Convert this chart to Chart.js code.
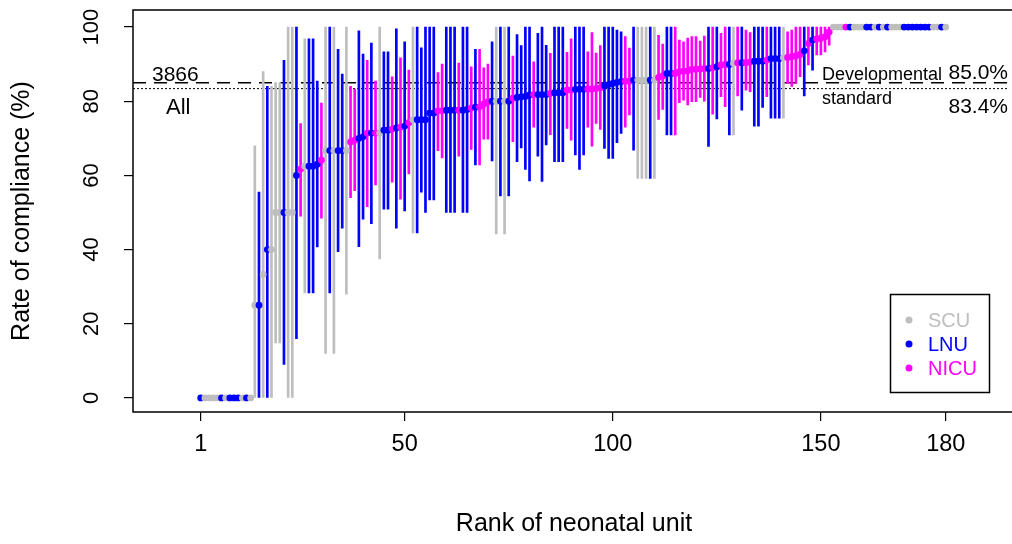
<!DOCTYPE html>
<html>
<head>
<meta charset="utf-8">
<script src="https://cdn.jsdelivr.net/npm/chart.js@4/dist/chart.umd.min.js"></script>
<style>
  html, body { margin: 0; padding: 0; background: #fff; }
  canvas { display: block; }
</style>
</head>
<body>
<canvas id="compliance-chart" width="1012" height="544"></canvas>
<script>
// unit type for each rank (S = SCU, L = LNU, N = NICU)
const unitType = [
  'L','S','S','S','S','L','S','L','L','L',
  'S','L','S','S','L','S','L','S','S','S',
  'L','S','S','L','N','S','L','L','L','N',
  'S','L','S','L','L','S','N','N','L','L',
  'N','L','N','S','L','L','N','L','N','L',
  'N','S','L','L','L','L','L','N','N','L',
  'L','L','N','L','L','N','L','N','N','N',
  'L','S','L','S','L','N','L','L','L','L',
  'N','L','L','L','N','L','L','L','N','N',
  'L','L','L','N','N','N','N','L','L','L',
  'L','L','N','N','L','S','S','S','L','S',
  'N','N','L','L','N','N','N','N','N','N',
  'N','N','L','N','L','N','N','L','S','N',
  'L','N','N','L','L','L','N','L','L','L',
  'S','N','N','N','N','L','N','L','N','N',
  'N','N','S','S','S','N','L','S','S','S',
  'L','L','S','L','S','L','S','S','S','L',
  'L','L','L','L','L','L','S','S','L','S'
];

// rate of compliance (%) by rank
const rate = [
  0, 0, 0, 0, 0, 0, 0, 0, 0, 0,
  0, 0, 0, 25, 25, 33.3, 40, 40, 50, 50,
  50, 50, 50, 60, 61.7, 62.5, 62.5, 62.5, 63, 64.1,
  66.7, 66.7, 66.7, 66.7, 66.7, 66.7, 69, 69.5, 70, 70.4,
  71.4, 71.4, 71.4, 71.4, 72.2, 72.2, 72.5, 72.8, 73, 73.3,
  74.2, 75, 75, 75, 75, 76.8, 76.8, 77.4, 77.4, 77.6,
  77.6, 77.6, 77.6, 77.6, 77.8, 78.2, 78.4, 78.5, 79.2, 79.8,
  80, 80, 80, 80, 80, 80.8, 81, 81.2, 81.3, 81.7,
  81.8, 81.8, 81.8, 81.8, 82.1, 82.3, 82.3, 82.3, 83, 83,
  83.2, 83.2, 83.2, 83.3, 83.3, 83.4, 83.6, 84.2, 84.5, 84.8,
  85.1, 85.3, 85.4, 85.4, 85.7, 85.7, 85.7, 85.7, 85.7, 85.7,
  86.4, 86.8, 87.5, 87.5, 87.5, 88, 88.1, 88.2, 88.6, 88.6,
  88.7, 88.8, 88.8, 89, 89.3, 89.8, 89.9, 89.9, 90.2, 90.4,
  90.4, 90.4, 90.6, 90.8, 90.8, 90.8, 91.1, 91.5, 91.5, 91.5,
  91.7, 91.8, 92, 92.2, 92.6, 93.6, 95.6, 96.5, 96.8, 97,
  97.4, 98.7, 100, 100, 100, 100, 100, 100, 100, 100,
  100, 100, 100, 100, 100, 100, 100, 100, 100, 100,
  100, 100, 100, 100, 100, 100, 100, 100, 100, 100
];

// lower confidence limit
const lower = [
  0, 0, 0, 0, 0, 0, 0, 0, 0, 0,
  0, 0, 0, 0, 0, 0, 0, 0, 14.8, 14.8,
  9, 0, 0, 16, 49, 28.3, 28.3, 28.3, 40.7, 48.5,
  12, 28.3, 12, 39.4, 45.8, 28, 54, 55.9, 40.8, 48.2,
  51.6, 47, 57.4, 37.5, 50.9, 50.9, 58.2, 45.8, 53.6, 50.4,
  60.4, 44.5, 44.5, 55.5, 50, 53.4, 53.4, 66.7, 64.7, 50,
  50, 50, 65.2, 50, 50, 67, 62.8, 62.8, 69.8, 69.8,
  63.9, 44.2, 54.5, 44.2, 54.5, 69.1, 63.7, 67.4, 61.6, 58.5,
  73, 65.2, 58.4, 68.2, 71, 63.7, 63.7, 63.7, 72.7, 69.5,
  65.5, 61.6, 65.5, 73, 67.9, 74, 72.4, 67.3, 64.6, 64.6,
  68.8, 71.3, 73, 76.3, 66.8, 59.2, 59.2, 59.2, 59.2, 59.2,
  75.1, 77.8, 70.9, 70.9, 70.9, 79.6, 80.3, 79, 79.9, 79.9,
  81, 80, 67.8, 76.5, 75.2, 81.2, 78.5, 70.9, 70.9, 81.4,
  77.6, 83, 82.6, 73.3, 73.3, 78.3, 81.2, 75.4, 75.4, 75.4,
  75.4, 84.8, 84, 84.8, 86.6, 81.4, 89.8, 88.4, 92.5, 92.5,
  93.3, 95.1, 100, 100, 100, 100, 100, 100, 100, 100,
  100, 100, 100, 100, 100, 100, 100, 100, 100, 100,
  100, 100, 100, 100, 100, 100, 100, 100, 100, 100
];

// upper confidence limit
const upper = [
  0, 0, 0, 0, 0, 0, 0, 0, 0, 0,
  0, 0, 0, 68, 55.5, 88, 84, 84, 85, 85,
  91, 100, 100, 100, 74, 96.8, 96.8, 96.8, 85.4, 79.5,
  100, 100, 100, 94, 87.3, 100, 84, 83.3, 99, 92.7,
  91, 95.7, 85.4, 100, 93.3, 93.3, 86.6, 99.5, 91.7, 96,
  88.4, 100, 100, 94.4, 100, 100, 100, 87.7, 90, 100,
  100, 100, 90.3, 100, 100, 89.3, 94, 94, 89, 90,
  96, 100, 100, 100, 100, 92.2, 98, 95, 100, 100,
  90.6, 98.3, 100, 95.1, 92.9, 100, 100, 100, 93.2, 96.8,
  100, 100, 100, 93.3, 98.5, 93, 95, 100, 100, 100,
  99.2, 98.7, 97.4, 94.3, 100, 100, 100, 100, 100, 100,
  97.8, 95.4, 100, 100, 100, 96.5, 96, 97, 97.4, 97.4,
  96.2, 97.6, 100, 100, 100, 98.3, 100, 100, 100, 100,
  100, 99.2, 98.5, 100, 100, 100, 100, 100, 100, 100,
  100, 98.7, 99.2, 100, 100, 100, 100, 100, 100, 100,
  100, 100, 100, 100, 100, 100, 100, 100, 100, 100,
  100, 100, 100, 100, 100, 100, 100, 100, 100, 100,
  100, 100, 100, 100, 100, 100, 100, 100, 100, 100
];

const xTicks = [1, 50, 100, 150, 180];
const yTicks = [0, 20, 40, 60, 80, 100];

// reference lines: developmental standard and overall rate
const standardRate = 85.0;
const overallRate = 83.4;
const overallCount = '3866';

const legendNames = ['SCU', 'LNU', 'NICU'];
const legendCodes = ['S', 'L', 'N'];

const typeColors = { S: '#bebebe', L: '#0000ff', N: '#ff00ff' };
const FONT = '"Liberation Sans", Arial, Helvetica, sans-serif';

document.addEventListener('DOMContentLoaded', function() {
  const ctx = document.getElementById('compliance-chart').getContext('2d');

  const points = rate.map((v, i) => ({ x: i + 1, y: v }));
  const intervals = rate.map((v, i) => ({ x: i + 1, y: [lower[i], upper[i]] }));
  const colors = unitType.map(t => typeColors[t]);

  // extra drawing: box, rotated y labels, titles, reference lines, legend
  const decorations = {
    id: 'decorations',
    beforeDatasetsDraw(chart) {
      const c = chart.ctx;
      const area = chart.chartArea;
      const y = chart.scales.y;
      c.save();
      c.strokeStyle = '#000';
      c.lineWidth = 1.5;
      c.setLineDash([13, 8]);
      c.beginPath();
      c.moveTo(area.left, y.getPixelForValue(standardRate));
      c.lineTo(area.right, y.getPixelForValue(standardRate));
      c.stroke();
      c.lineWidth = 1;
      c.setLineDash([2, 2]);
      c.beginPath();
      c.moveTo(area.left, y.getPixelForValue(overallRate));
      c.lineTo(area.right, y.getPixelForValue(overallRate));
      c.stroke();
      c.restore();
    },
    afterDraw(chart) {
      const c = chart.ctx;
      const area = chart.chartArea;
      const y = chart.scales.y;
      c.save();

      // plot box (right side runs off the picture)
      c.strokeStyle = '#000';
      c.lineWidth = 1.5;
      c.beginPath();
      c.moveTo(area.right + 5, area.top);
      c.lineTo(area.left, area.top);
      c.lineTo(area.left, area.bottom);
      c.lineTo(area.right + 5, area.bottom);
      c.stroke();

      c.fillStyle = '#000';

      // y tick labels, rotated like R's default
      c.font = '22px ' + FONT;
      c.textAlign = 'center';
      c.textBaseline = 'middle';
      y.ticks.forEach(t => {
        c.save();
        c.translate(92, y.getPixelForValue(t.value));
        c.rotate(-Math.PI / 2);
        c.fillText(String(t.value), 0, 0);
        c.restore();
      });

      // axis titles
      c.font = '25px ' + FONT;
      c.save();
      c.translate(22, (area.top + area.bottom) / 2);
      c.rotate(-Math.PI / 2);
      c.fillText('Rate of compliance (%)', 0, 0);
      c.restore();
      c.fillText('Rank of neonatal unit', 574, 524);

      // labels on the reference lines
      const yStd = y.getPixelForValue(standardRate);
      const yAll = y.getPixelForValue(overallRate);
      c.textAlign = 'left';
      c.textBaseline = 'alphabetic';
      c.font = '21px ' + FONT;
      c.fillText(overallCount, 152, yStd - 2);
      c.font = '22px ' + FONT;
      c.fillText('All', 166, yAll + 25);
      c.font = '18px ' + FONT;
      c.fillText('Developmental', 822, yStd - 3);
      c.fillText('standard', 822, yAll + 15);
      c.font = '21px ' + FONT;
      c.textAlign = 'right';
      c.fillText(standardRate.toFixed(1) + '%', 1008, yStd - 4);
      c.fillText(overallRate.toFixed(1) + '%', 1008, yAll + 24);

      // legend
      c.lineWidth = 1.5;
      c.strokeRect(890.5, 294.5, 99, 98);
      c.font = '20px ' + FONT;
      c.textAlign = 'left';
      c.textBaseline = 'middle';
      legendNames.forEach((name, i) => {
        const ly = 320 + i * 24;
        c.fillStyle = typeColors[legendCodes[i]];
        c.beginPath();
        c.arc(909, ly, 3.5, 0, Math.PI * 2);
        c.fill();
        c.fillText(name, 928, ly + 1);
      });
      c.restore();
    }
  };

  new Chart(ctx, {
    type: 'bar',
    data: {
      datasets: [
        {
          type: 'scatter',
          data: points,
          order: 0,
          pointRadius: 3.4,
          pointBorderWidth: 0,
          pointBackgroundColor: colors,
          pointBorderColor: colors,
          pointHoverRadius: 3.4
        },
        {
          type: 'bar',
          data: intervals,
          order: 1,
          backgroundColor: colors,
          borderWidth: 0,
          barThickness: 2,
          grouped: false
        }
      ]
    },
    options: {
      responsive: false,
      animation: false,
      layout: { padding: { top: 10, right: 0, left: 0, bottom: 0 } },
      plugins: {
        legend: { display: false },
        tooltip: { enabled: false }
      },
      scales: {
        x: {
          type: 'linear',
          min: -15.27,
          max: 195.1,
          offset: false,
          afterBuildTicks: s => { s.ticks = xTicks.map(v => ({ value: v })); },
          afterFit: s => { s.height = 132; },
          grid: {
            display: true,
            offset: false,
            drawOnChartArea: false,
            drawTicks: true,
            tickLength: 9,
            color: '#000',
            lineWidth: 1.2
          },
          border: { display: false },
          ticks: {
            autoSkip: false,
            maxRotation: 0,
            padding: 9,
            color: '#000',
            font: { family: FONT, size: 23.5 }
          }
        },
        y: {
          type: 'linear',
          min: -3.8,
          max: 104.6,
          afterBuildTicks: s => { s.ticks = yTicks.map(v => ({ value: v })); },
          afterFit: s => { s.width = 133; },
          grid: {
            display: true,
            offset: false,
            drawOnChartArea: false,
            drawTicks: true,
            tickLength: 9,
            color: '#000',
            lineWidth: 1.2
          },
          border: { display: false },
          ticks: {
            callback: () => '',
            padding: 0
          }
        }
      }
    },
    plugins: [decorations]
  });
});
</script>
</body>
</html>
